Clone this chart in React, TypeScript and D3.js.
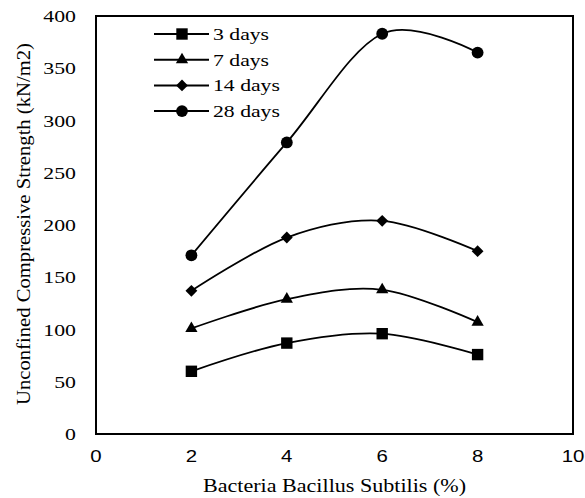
import React from 'react';
import * as d3 from 'd3';

// bacteria content (%)
const dosages = [2, 4, 6, 8];
const seriesNames = ['3 days', '7 days', '14 days', '28 days'];
const days3 = [60, 87, 96, 76];
const days7 = [101, 129, 138, 107];
const days14 = [137, 188, 204, 175];
const days28 = [171, 279, 383, 365];
const yTicks = [0, 50, 100, 150, 200, 250, 300, 350, 400];
const xTicks = [0, 2, 4, 6, 8, 10];

const W = 585, H = 498;
const margin = { top: 16, right: 12, bottom: 64, left: 96 };

// square turned 45 degrees, wider than d3's own diamond
const squareDiamond = {
  draw(ctx: any, size: number) {
    const r = Math.sqrt(size / 2);
    ctx.moveTo(0, -r);
    ctx.lineTo(r, 0);
    ctx.lineTo(0, r);
    ctx.lineTo(-r, 0);
    ctx.closePath();
  }
};

// the source picture is a bit wider than tall, so text is drawn wider
function widen(sel: any, k: number) {
  sel.each(function (this: SVGTextElement) {
    const w = this.getComputedTextLength();
    d3.select(this).attr('textLength', w * k).attr('lengthAdjust', 'spacingAndGlyphs');
  });
}

function App() {
  const ref = React.useRef<SVGSVGElement>(null);

  React.useEffect(() => {
    const svg = d3.select(ref.current);
    svg.selectAll('*').remove();

    const x = d3.scaleLinear().domain([0, 10]).range([margin.left, W - margin.right]);
    const y = d3.scaleLinear().domain([0, 400]).range([H - margin.bottom, margin.top]);
    const serif = '"Liberation Serif", "Times New Roman", serif';
    const sans = '"Liberation Sans", Arial, sans-serif';

    // plot frame
    svg.append('rect')
      .attr('x', x(0)).attr('y', y(400))
      .attr('width', x(10) - x(0)).attr('height', y(0) - y(400))
      .attr('fill', 'none').attr('stroke', '#000').attr('stroke-width', 2);

    // y tick labels
    const yl = svg.selectAll('.ytick').data(yTicks).enter().append('text')
      .attr('x', 76).attr('y', d => y(d) + 6)
      .attr('text-anchor', 'end')
      .attr('font-family', serif).attr('font-size', 17)
      .text(d => d);
    widen(yl, 1.28);

    // x tick labels
    const xl = svg.selectAll('.xtick').data(xTicks).enter().append('text')
      .attr('x', d => x(d)).attr('y', 462)
      .attr('text-anchor', 'middle')
      .attr('font-family', sans).attr('font-size', 17)
      .text(d => d);
    widen(xl, 1.2);

    svg.append('text')
      .attr('x', 203).attr('y', 492)
      .attr('font-family', serif).attr('font-size', 18)
      .attr('textLength', 263).attr('lengthAdjust', 'spacingAndGlyphs')
      .text('Bacteria Bacillus Subtilis (%)');

    svg.append('text')
      .attr('transform', 'translate(30,405) rotate(-90)')
      .attr('font-family', serif).attr('font-size', 18)
      .attr('textLength', 362).attr('lengthAdjust', 'spacingAndGlyphs')
      .text('Unconfined Compressive Strength  (kN/m2)');

    const symbols = [d3.symbolSquare, d3.symbolTriangle, squareDiamond, d3.symbolCircle];
    const sizes = [130, 65, 70, 110];
    const allSeries = [days3, days7, days14, days28];

    const line = d3.line<number>()
      .x((_, i) => x(dosages[i]))
      .y(d => y(d))
      .curve(d3.curveCatmullRom.alpha(0));

    allSeries.forEach((vals, s) => {
      svg.append('path')
        .attr('d', line(vals))
        .attr('fill', 'none').attr('stroke', '#000').attr('stroke-width', 1.8);
      svg.selectAll(`.m${s}`).data(vals).enter().append('path')
        .attr('transform', (d, i) => `translate(${x(dosages[i])},${y(d)})`)
        .attr('d', d3.symbol().type(symbols[s] as any).size(sizes[s])())
        .attr('fill', '#000');
    });

    // legend
    const lg = svg.append('g');
    seriesNames.forEach((name, s) => {
      const ly = 34 + s * 25.7;
      lg.append('line').attr('x1', 154).attr('x2', 209).attr('y1', ly).attr('y2', ly)
        .attr('stroke', '#000').attr('stroke-width', 2);
      lg.append('path')
        .attr('transform', `translate(182,${ly})`)
        .attr('d', d3.symbol().type(symbols[s] as any).size(sizes[s])())
        .attr('fill', '#000');
      const t = lg.append('text').attr('x', 213).attr('y', ly + 6)
        .attr('font-family', serif).attr('font-size', 17.5)
        .text(name);
      widen(t, 1.24);
    });
  }, []);

  return (
    <svg ref={ref} width={W} height={H}
      style={{ position: 'absolute', left: 0, top: 0, background: '#fff' }} />
  );
}

export default App;
